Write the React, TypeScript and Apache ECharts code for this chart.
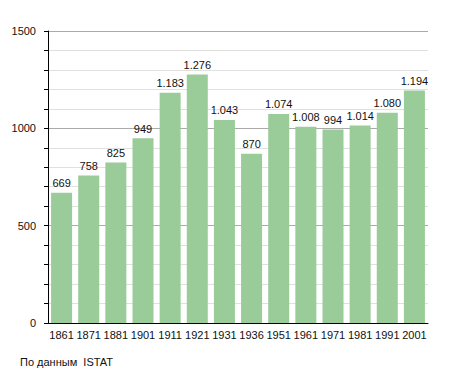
import React, { useEffect, useRef } from "react";
import * as echarts from "echarts";

const years = ["1861", "1871", "1881", "1901", "1911", "1921", "1931", "1936", "1951", "1961", "1971", "1981", "1991", "2001"];
const population = [669, 758, 825, 949, 1183, 1276, 1043, 870, 1074, 1008, 994, 1014, 1080, 1194];
const yTicks = [0, 500, 1000, 1500];
const sourceNote = "По данным  ISTAT";

const fmt = (v: number) => {
  const s = String(v);
  return s.length > 3 ? s.slice(0, s.length - 3) + "." + s.slice(s.length - 3) : s;
};

export default function App() {
  const ref = useRef<HTMLDivElement>(null);
  useEffect(() => {
    if (!ref.current) return;
    const chart = echarts.init(ref.current, null, { renderer: "svg" });
    const font = "Liberation Sans, Arial, sans-serif";
    chart.setOption({
      animation: false,
      backgroundColor: "#ffffff",
      textStyle: { fontFamily: font },
      grid: { left: 48, right: 27, top: 31, bottom: 50, containLabel: false },
      xAxis: {
        type: "category",
        data: years,
        axisLine: { lineStyle: { color: "#000", width: 1 } },
        axisTick: { show: false },
        axisLabel: { color: "#111", fontSize: 11, margin: 6, interval: 0, fontFamily: font },
      },
      yAxis: {
        type: "value",
        min: yTicks[0],
        max: yTicks[yTicks.length - 1],
        interval: 500,
        axisLine: { show: true, lineStyle: { color: "#000", width: 1 } },
        axisTick: { show: true, length: 4, inside: false, lineStyle: { color: "#000" } },
        minorTick: { show: true, splitNumber: 5, length: 4, lineStyle: { color: "#000" } },
        axisLabel: { color: "#111", fontSize: 11, margin: 12, fontFamily: font, formatter: (v: number) => String(v) },
        splitLine: { show: true, lineStyle: { color: "#aaaaaa", width: 1 } },
        minorSplitLine: { show: true, lineStyle: { color: "#e0e0e0", width: 1 } },
      },
      series: [
        {
          type: "bar",
          data: population,
          barWidth: 21,
          itemStyle: { color: "#99cc99" },
          label: {
            show: true,
            position: "top",
            distance: 4,
            color: "#111",
            fontSize: 11,
            fontFamily: font,
            formatter: (p: any) => fmt(p.value),
          },
        },
      ],
      graphic: [
        {
          type: "text",
          left: 20,
          top: 356,
          style: { text: sourceNote, fill: "#111", fontSize: 11, fontFamily: font },
        },
      ],
    });
    return () => chart.dispose();
  }, []);
  return <div ref={ref} style={{ width: 455, height: 373, position: "absolute", left: 0, top: 0 }} />;
}
